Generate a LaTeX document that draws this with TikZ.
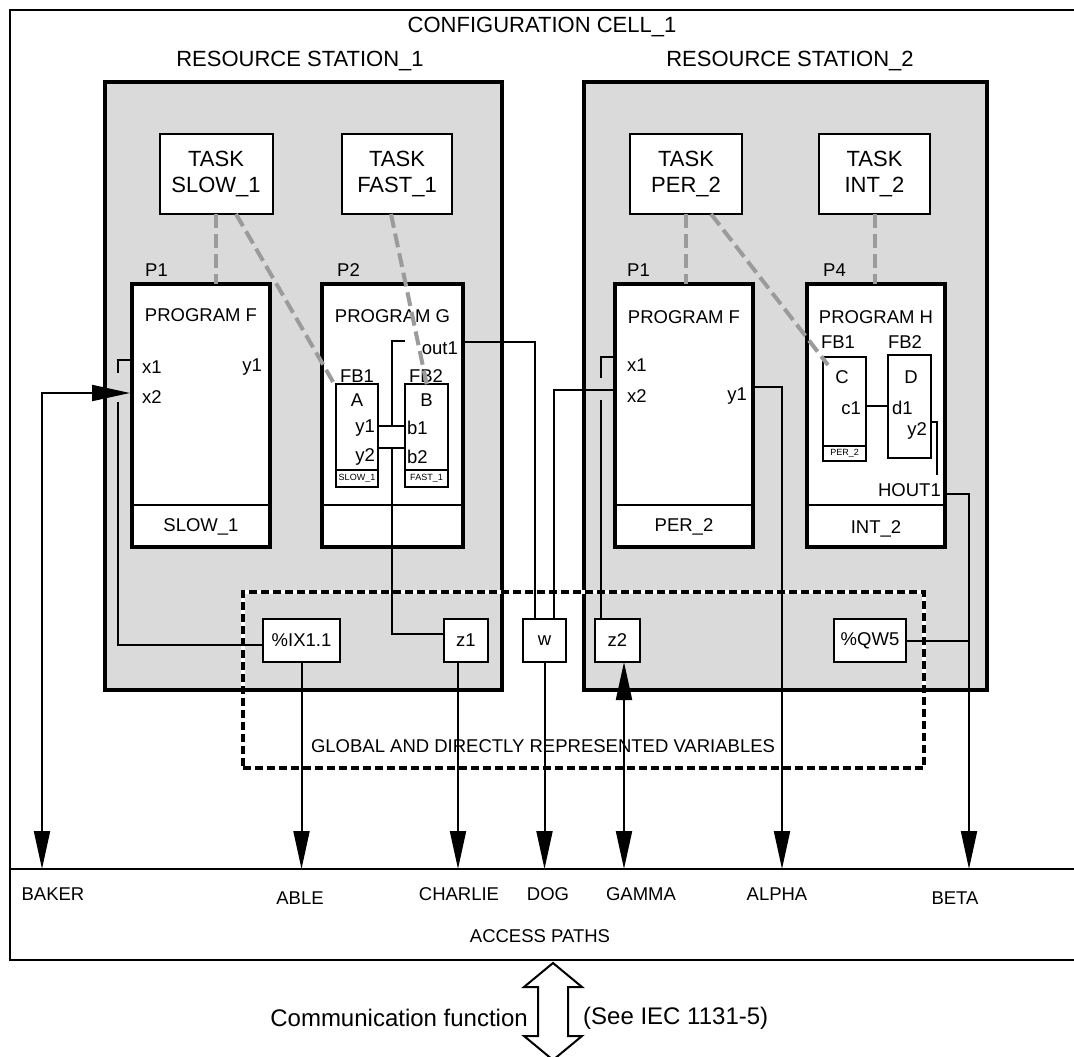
\documentclass[tikz,border=0pt]{standalone}
\usepackage{fontspec}
\setmainfont{Liberation Sans}
\usetikzlibrary{arrows.meta,calc}
\definecolor{hatch}{RGB}{218,218,218}
\definecolor{taskgray}{RGB}{155,155,155}
\newcommand{\myfA}{\fontsize{18.5}{22}\selectfont}
\newcommand{\myfT}{\fontsize{22}{26}\selectfont}
\newcommand{\myfS}{\fontsize{9}{10}\selectfont}
\newcommand{\myfC}{\fontsize{24}{28}\selectfont}
\begin{document}
\begin{tikzpicture}[x=1pt,y=-1pt,
  lbl/.style={font=\myfA, inner sep=0pt},
  title/.style={font=\myfT, inner sep=0pt},
  small/.style={font=\myfS, inner sep=0pt},
  station/.style={draw, line width=4pt, fill=hatch, inner sep=0pt, outer sep=0pt},
  prog/.style={draw, line width=4pt, fill=white, inner sep=0pt, outer sep=0pt},
  taskbox/.style={draw, line width=2pt, fill=white, align=center, font=\myfT, inner sep=0pt, outer sep=0pt},
  fbbox/.style={draw, line width=1.8pt, fill=white, inner sep=0pt, outer sep=0pt},
  varbox/.style={draw, line width=2pt, fill=white, font=\myfA, inner sep=0pt, outer sep=0pt, minimum height=43pt},
  conn/.style={line width=2pt},
  arr/.style={line width=2pt, -{Triangle[length=38pt,width=16pt]}},
  biarr/.style={line width=2pt, {Triangle[length=38pt,width=16pt]}-{Triangle[length=38pt,width=16pt]}},
  taskln/.style={draw=taskgray, line width=4pt, dash pattern=on 14pt off 6pt},
  globbox/.style={draw, line width=4pt, dash pattern=on 8pt off 4pt, preaction={draw=white, line width=4pt, solid}, inner sep=0pt, outer sep=0pt},
]
\useasboundingbox (0,0) rectangle (1074,1057);

% outer frame and access paths
\draw[line width=1.6pt] (10,10) rectangle (1090,960);
\draw[line width=2pt] (10,869) -- (1090,869);
\node[title] (cfg) at (542,27) {CONFIGURATION CELL\_1};

% stations
\node[station, minimum width=397pt, minimum height=608pt] (st1) at (303.5,386) {};
\node[station, minimum width=403pt, minimum height=608pt] (st2) at (785.5,386) {};
\node[title] (rs1) at (300,61) {RESOURCE STATION\_1};
\node[title] (rs2) at (790,61) {RESOURCE STATION\_2};

% tasks
\node[taskbox, minimum width=113pt, minimum height=80pt] (tslow) at (216,174) {TASK\\SLOW\_1};
\node[taskbox, minimum width=110pt, minimum height=80pt] (tfast) at (397,174) {TASK\\FAST\_1};
\node[taskbox, minimum width=112pt, minimum height=80pt] (tper) at (686,174) {TASK\\PER\_2};
\node[taskbox, minimum width=111pt, minimum height=80pt] (tint) at (874.5,174) {TASK\\INT\_2};

% programs
\node[prog, minimum width=138pt, minimum height=263pt] (pf1) at (201,415.5) {};
\node[prog, minimum width=141pt, minimum height=263pt] (pg) at (392.5,415.5) {};
\node[prog, minimum width=138pt, minimum height=263pt] (pf2) at (684,415.5) {};
\node[prog, minimum width=138pt, minimum height=263pt] (ph) at (876,415.5) {};
\foreach \p in {pf1,pg,pf2,ph}
  \draw[line width=2pt] ($(\p.south west)+(0,-42)$) -- ($(\p.south east)+(0,-42)$);

\node[lbl, anchor=south west] (p1a) at ($(pf1.north west)+(13,-7)$) {P1};
\node[lbl, anchor=south west] (p2a) at ($(pg.north west)+(15,-7)$) {P2};
\node[lbl, anchor=south west] (p1b) at ($(pf2.north west)+(12,-7)$) {P1};
\node[lbl, anchor=south west] (p4b) at ($(ph.north west)+(16,-7)$) {P4};

\node[lbl] (tpf1) at ($(pf1.north)+(0,31)$) {PROGRAM F};
\node[lbl] (tpg) at ($(pg.north)+(0,32)$) {PROGRAM G};
\node[lbl] (tpf2) at ($(pf2.north)+(0,33)$) {PROGRAM F};
\node[lbl] (tph) at ($(ph.north)+(0,33)$) {PROGRAM H};
\node[lbl] (bpf1) at ($(pf1.south)+(0,-20)$) {SLOW\_1};
\node[lbl] (bpf2) at ($(pf2.south)+(0,-20)$) {PER\_2};
\node[lbl] (bph) at ($(ph.south)+(0,-18)$) {INT\_2};

% function blocks
\node[fbbox, minimum width=42pt, minimum height=103pt] (fbA) at (357,435.5) {};
\node[fbbox, minimum width=43pt, minimum height=103pt] (fbB) at (426.5,435.5) {};
\node[fbbox, minimum width=43pt, minimum height=104pt] (fbC) at (844.5,409) {};
\node[fbbox, minimum width=43pt, minimum height=103pt] (fbD) at (909.5,406.5) {};
\draw[line width=1.8pt] ($(fbA.south west)+(0,-17)$) -- ($(fbA.south east)+(0,-17)$);
\draw[line width=1.8pt] ($(fbB.south west)+(0,-17)$) -- ($(fbB.south east)+(0,-17)$);
\draw[line width=1.8pt] ($(fbC.south west)+(0,-15)$) -- ($(fbC.south east)+(0,-15)$);
\node[small] (sA) at ($(fbA.south)+(0,-8.5)$) {SLOW\_1};
\node[small] (sB) at ($(fbB.south)+(0,-8.5)$) {FAST\_1};
\node[small] (sC) at ($(fbC.south)+(0,-7.5)$) {PER\_2};

\node[lbl, anchor=south] (fb1g) at (357,383) {FB1};
\node[lbl, anchor=south] (fb2g) at (426,383) {FB2};
\node[lbl, anchor=south] (fb1h) at (838,349) {FB1};
\node[lbl, anchor=south] (fb2h) at (905,349) {FB2};
\node[lbl] (tA) at (357,400) {A};
\node[lbl] (tB) at (426.5,400) {B};
\node[lbl] (tC) at (842,377) {C};
\node[lbl] (tD) at (911,377) {D};
\node[lbl, anchor=east] (ay1) at (375,428) {y1};
\node[lbl, anchor=east] (ay2) at (375,457) {y2};
\node[lbl, anchor=west] (bb1) at (407,428) {b1};
\node[lbl, anchor=west] (bb2) at (407,457) {b2};
\node[lbl, anchor=east] (cc1) at (861,408) {c1};
\node[lbl, anchor=west] (dd1) at (892,408) {d1};
\node[lbl, anchor=east] (dy2) at (927,431) {y2};
\node[lbl, anchor=east] (out1) at (458,348) {out1};
\node[lbl, anchor=east] (hout1) at (941,490) {HOUT1};
\node[lbl, anchor=west] (f1x1t) at (142,367) {x1};
\node[lbl, anchor=west] (f1x2t) at (142,397) {x2};
\node[lbl, anchor=east] (f1y1t) at (262,367) {y1};
\node[lbl, anchor=west] (f2x1t) at (627,365) {x1};
\node[lbl, anchor=west] (f2x2t) at (627,396) {x2};
\node[lbl, anchor=east] (f2y1t) at (747,396) {y1};

% global variables box
\node[globbox, minimum width=681pt, minimum height=176pt] (glob) at (583.5,680) {};
\node[lbl] (globt) at (543,746) {GLOBAL AND DIRECTLY REPRESENTED VARIABLES};

% ports
\coordinate (f1x1) at (130,360);
\coordinate (f1x2) at (130,393);
\coordinate (f2x1) at (613,357);
\coordinate (f2x2) at (613,390);
\coordinate (f2y1) at (753,387);
\coordinate (gout) at (463,342);
\coordinate (goutin) at (405,341);
\coordinate (hout) at (945,494);
\coordinate (aBaker) at (42,869);
\coordinate (aAble) at (301.5,869);
\coordinate (aCharlie) at (458,869);
\coordinate (aDog) at (544.5,869);
\coordinate (aGamma) at (624,869);
\coordinate (aAlpha) at (782,869);
\coordinate (aBeta) at (969,869);

% internal connections
\draw[conn] ($(fbA.north east)+(0,42)$) -- ($(fbB.north west)+(0,42)$);
\draw[conn] ($(fbA.north east)+(0,64)$) -- ($(fbB.north west)+(0,64)$);
\draw[conn] (goutin) -| ($(fbA.north east)+(14,42)$);
\draw[conn] ($(fbC.east)+(0,-3)$) -- ($(fbD.west)+(0,-0.5)$);
\draw[conn] ($(fbD.east)+(0,15.5)$) -| (937,475);

% global variable boxes
\node[varbox, minimum width=77pt] (gix) at (301.5,640.5) {\%IX1.1};
\node[varbox, minimum width=44pt] (gz1) at (466,640.5) {z1};
\node[varbox, minimum width=43pt] (gw) at (544.5,640.5) {w};
\node[varbox, minimum width=45pt] (gz2) at (617.5,640.5) {z2};
\node[varbox, minimum width=72pt] (gqw) at (870,640.5) {\%QW5};

% connections
\draw[conn] (f1x1) -- ++(-12,0) -- ++(0,13);
\draw[conn] ($(gix.west)+(0,4)$) -| (118,402);
\draw[biarr] (f1x2) -| (aBaker);
\draw[arr] (gix.south) -- (aAble);
\draw[conn] ($(gz1.west)+(0,-7)$) -| ($(fbA.north east)+(14,64)$);
\draw[arr] ($(gz1.south)+(-8,0)$) -- (aCharlie);
\draw[conn] (gout) -| ($(gw.north west)+(12,0)$);
\draw[conn] ($(gw.north west)+(31,0)$) |- (f2x2);
\draw[arr] (gw.south) -- (aDog);
\draw[conn] (f2x1) -- ++(-12,0) -- ++(0,21);
\draw[conn] ($(gz2.north west)+(6,0)$) -- (601,400);
\draw[biarr] ($(gz2.south)+(6.5,0)$) -- (aGamma);
\draw[arr] (f2y1) -| (aAlpha);
\draw[arr] (hout) -| (aBeta);
\draw[conn] (gqw.east) -- (gqw.east -| aBeta);

% task associations
\draw[taskln] (tslow.south) -- (tslow.south |- pf1.north);
\draw[taskln] ($(tslow.south)+(20,0)$) -- ($(fbA.north west)+(0,3)$);
\draw[taskln] ($(tfast.south)+(-6,0)$) -- ($(fbB.north)+(1,4)$);
\draw[taskln] (tper.south) -- (tper.south |- pf2.north);
\draw[taskln] ($(tper.south)+(25,0)$) -- ($(fbC.north west)+(5,8)$);
\draw[taskln] (tint.south) -- (tint.south |- ph.north);

% access path labels
\node[lbl] (lbaker) at (53,894) {BAKER};
\node[lbl] (lable) at (300,898) {ABLE};
\node[lbl] (lcharlie) at (459,894) {CHARLIE};
\node[lbl] (ldog) at (548,894) {DOG};
\node[lbl] (lgamma) at (641,894) {GAMMA};
\node[lbl] (lalpha) at (777,894) {ALPHA};
\node[lbl] (lbeta) at (955,898) {BETA};
\node[lbl] (lacc) at (540,936) {ACCESS PATHS};

% communication function
\draw[line width=2pt, fill=white] (553,963) -- (582,987) -- (568,987) -- (568,1036) -- (582,1036) -- (553,1060) -- (524,1036) -- (538,1036) -- (538,987) -- (524,987) -- cycle;
\node[font=\myfC, inner sep=0pt, anchor=east] (comm) at (528,1018) {Communication function};
\node[font=\myfC, inner sep=0pt, anchor=west] (iec) at (583,1018) {(See IEC 1131-5)};
\end{tikzpicture}
\end{document}
